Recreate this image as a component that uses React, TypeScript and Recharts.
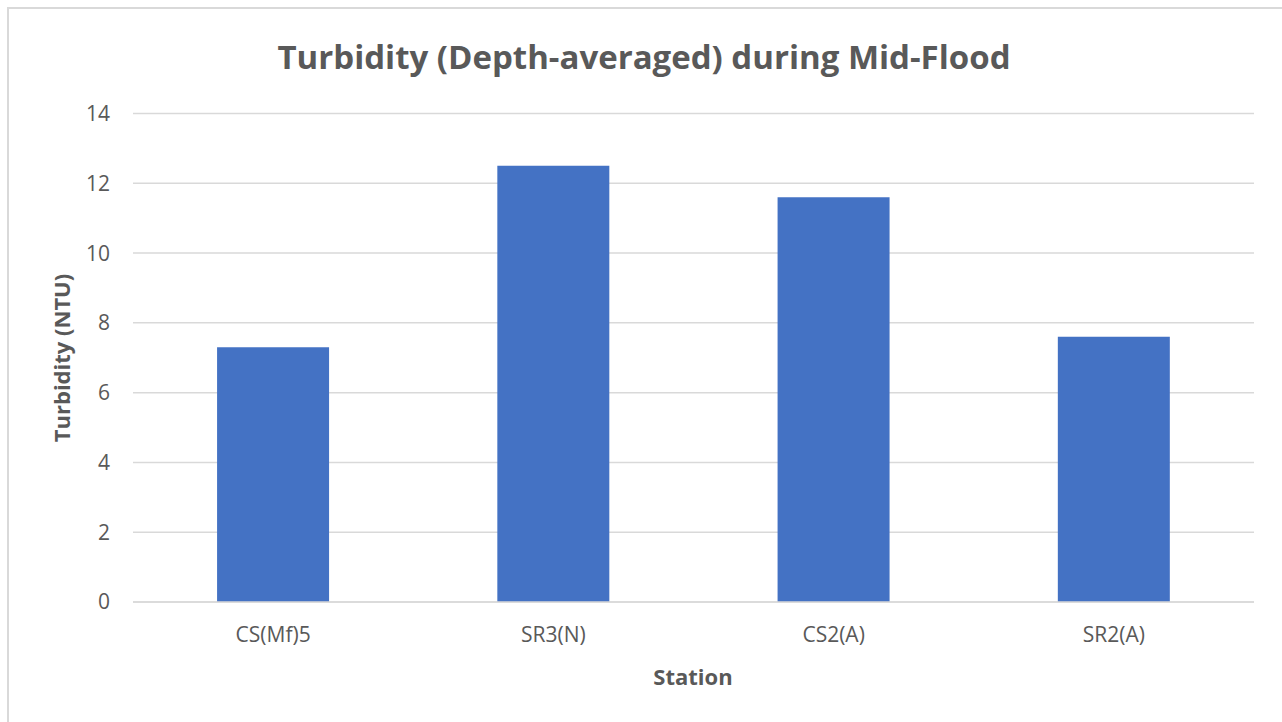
import React from "react";
import { BarChart, Bar, XAxis, YAxis, CartesianGrid } from "recharts";

const stations = ["CS(Mf)5", "SR3(N)", "CS2(A)", "SR2(A)"];
const turbidity = [7.3, 12.5, 11.6, 7.6];
const yTicks = [0, 2, 4, 6, 8, 10, 12, 14];

const data = stations.map((s, i) => ({ station: s, turbidity: turbidity[i] }));

const FONT = "'Open Sans', 'Noto Sans', sans-serif";
const TEXT = "#595959";
const GRID = "#d9d9d9";

export default function App() {
  return (
    <div
      style={{
        position: "absolute",
        left: 0,
        top: 0,
        width: 1282,
        height: 722,
        background: "#fff",
        overflow: "hidden",
        fontFamily: FONT,
      }}
    >
      <div
        style={{
          position: "absolute",
          left: 7,
          top: 7,
          width: 1290,
          height: 730,
          border: "2px solid #d9d9d9",
          boxSizing: "border-box",
        }}
      />
      <div
        style={{
          position: "absolute",
          left: 0,
          top: 40,
          width: 1288,
          textAlign: "center",
          fontSize: 33,
          lineHeight: "33px",
          fontWeight: 700,
          color: TEXT,
          whiteSpace: "nowrap",
        }}
      >
        Turbidity (Depth-averaged) during Mid-Flood
      </div>
      <div
        style={{
          position: "absolute",
          left: 61,
          top: 358,
          transform: "translate(-50%, -50%) rotate(-90deg)",
          fontSize: 22,
          lineHeight: "22px",
          fontWeight: 700,
          color: TEXT,
          whiteSpace: "nowrap",
        }}
      >
        Turbidity (NTU)
      </div>
      <div
        style={{
          position: "absolute",
          left: 693,
          top: 676,
          transform: "translate(-50%, -50%)",
          fontSize: 22,
          lineHeight: "22px",
          fontWeight: 700,
          color: TEXT,
          whiteSpace: "nowrap",
        }}
      >
        Station
      </div>
      <div style={{ position: "absolute", left: 0, top: 0 }}>
        <BarChart
          width={1282}
          height={722}
          data={data}
          margin={{ top: 113.5, right: 28, bottom: 90, left: 73 }}
          barCategoryGap="30%"
        >
          <CartesianGrid vertical={false} stroke={GRID} strokeWidth={1.5} />
          <XAxis
            dataKey="station"
            height={30}
            axisLine={{ stroke: GRID, strokeWidth: 1.5 }}
            tickLine={false}
            tickMargin={19}
            tick={{ fill: TEXT, fontSize: 21, fontFamily: FONT }}
            interval={0}
          />
          <YAxis
            width={60}
            domain={[0, 14]}
            ticks={yTicks}
            axisLine={false}
            tickLine={false}
            tickMargin={17}
            tick={{ fill: TEXT, fontSize: 21, fontFamily: FONT }}
          />
          <Bar dataKey="turbidity" fill="#4472C4" isAnimationActive={false} />
        </BarChart>
      </div>
    </div>
  );
}
